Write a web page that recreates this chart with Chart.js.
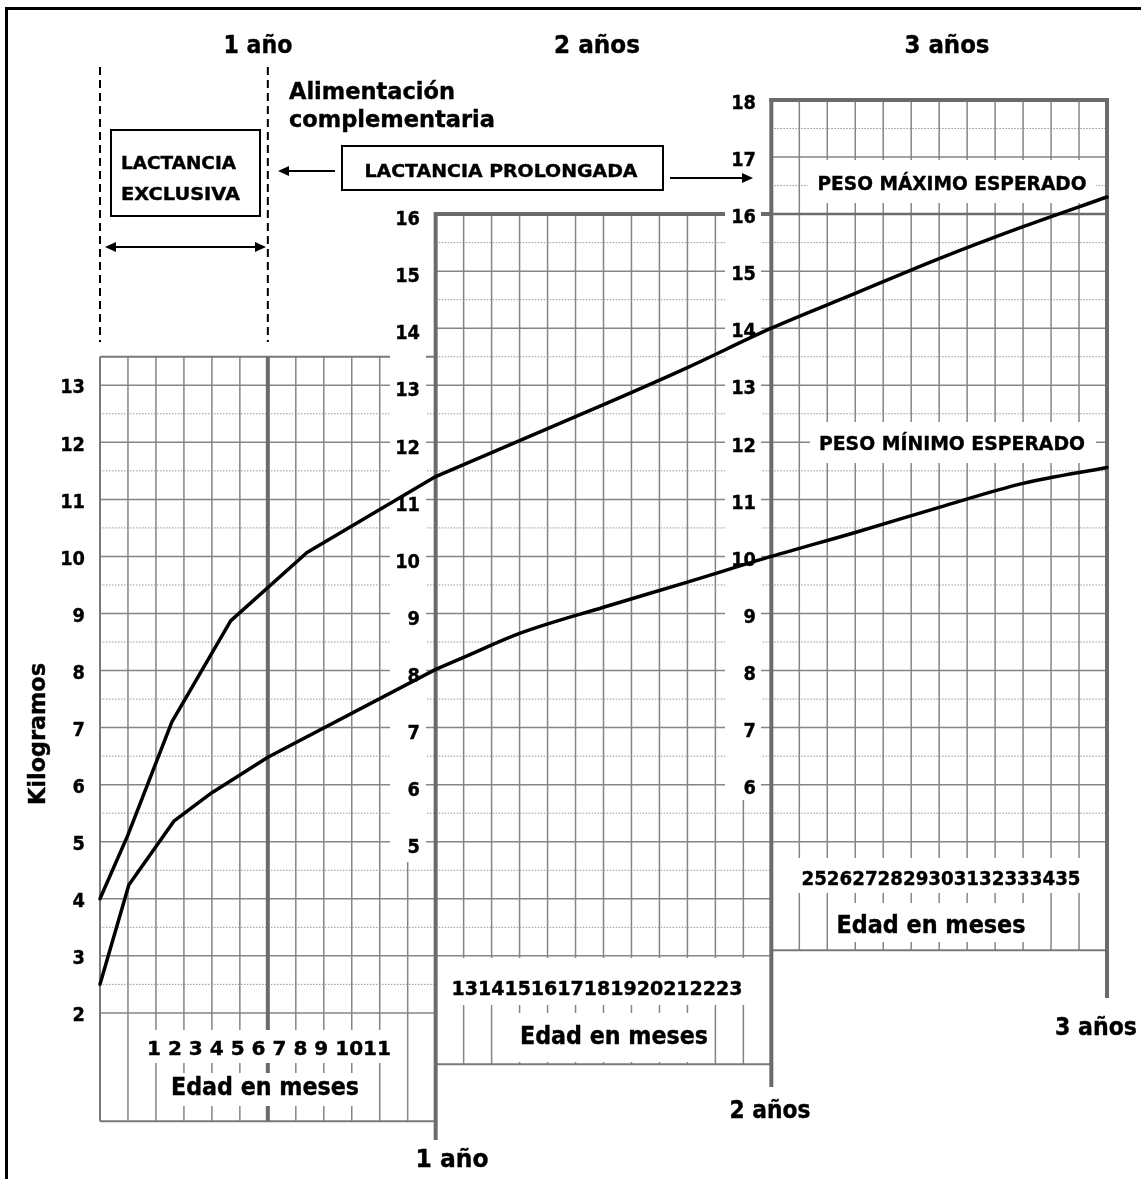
<!DOCTYPE html>
<html>
<head>
<meta charset="utf-8">
<script src="https://cdn.jsdelivr.net/npm/chart.js@4"></script>
<style>
  html, body { margin: 0; padding: 0; background: #fff; }
  canvas { display: block; }
</style>
</head>
<body>
<canvas id="growthChart" width="1141" height="1179"></canvas>
<script>
// curve values (age in months, weight in kg)
const ageMax = [0, 1, 2.57, 4.67, 7.4, 12, 15, 18, 21, 24, 27, 30, 33, 36]
const kgMax = [4.0, 5.12, 7.1, 8.87, 10.07, 11.4, 12.03, 12.66, 13.31, 14.0, 14.61, 15.22, 15.78, 16.3]
const ageMin = [0, 1.03, 2.64, 4, 6, 12, 13, 15, 18, 21, 24, 27, 30, 33, 36]
const kgMin = [2.5, 4.24, 5.36, 5.86, 6.48, 8.02, 8.23, 8.65, 9.11, 9.55, 10.0, 10.42, 10.86, 11.28, 11.56]

// the three stepped panels
const panelStart = [0, 12, 24]
const panelTop = [13.5, 16, 18]
const panelFloor = [2, 3, 5]
const kgTicks = [
  [2, 3, 4, 5, 6, 7, 8, 9, 10, 11, 12, 13],
  [5, 6, 7, 8, 9, 10, 11, 12, 13, 14, 15, 16],
  [6, 7, 8, 9, 10, 11, 12, 13, 14, 15, 16, 17, 18]
]
const monthTicks = [
  ['1', '2', '3', '4', '5', '6', '7', '8', '9', '10', '11'],
  ['13', '14', '15', '16', '17', '18', '19', '20', '21', '22', '23'],
  ['25', '26', '27', '28', '29', '30', '31', '32', '33', '34', '35']
]
const yearLabels = ['1 año', '2 años', '3 años']

// pixel layout of the text boxes of each panel
const panelText = [
  { kgRight: 85, kgDy: 3, tickBox: [140, 1030, 395, 1063], tick: [269, 1050, 244],
    edadBox: [168, 1073, 360, 1106], edad: [265, 1089, 188], column: null },
  { kgRight: 420, kgDy: 6, tickBox: [450, 958, 746, 1005], tick: [597, 990, 291],
    edadBox: [515, 1013, 712, 1062], edad: [614, 1038, 188], column: [390, 190, 426, 862] },
  { kgRight: 756, kgDy: 4, tickBox: [798, 858, 1084, 893], tick: [941, 880, 279],
    edadBox: [834, 903, 1029, 942], edad: [931, 927, 189], column: [725, 88, 761, 800] }
]

const FONT = '"DejaVu Sans", Verdana, sans-serif'

function hLine(ctx, x1, x2, y) {
  ctx.beginPath()
  ctx.moveTo(x1, y)
  ctx.lineTo(x2, y)
  ctx.stroke()
}

function vLine(ctx, x, y1, y2) {
  ctx.beginPath()
  ctx.moveTo(x, y1)
  ctx.lineTo(x, y2)
  ctx.stroke()
}

function whiteBox(ctx, b) {
  ctx.fillStyle = '#fff'
  ctx.fillRect(b[0], b[1], b[2] - b[0], b[3] - b[1])
}

// bold text, squeezed or stretched to the width it has in the picture
function fitText(ctx, text, x, y, width, size, align) {
  ctx.save()
  ctx.font = `bold ${size}px ${FONT}`
  ctx.fillStyle = '#000'
  ctx.strokeStyle = '#000'
  ctx.lineWidth = 0.4
  ctx.textBaseline = 'middle'
  ctx.textAlign = align || 'center'
  const w = ctx.measureText(text).width
  ctx.translate(x, y)
  if (width) ctx.scale(width / w, 1)
  ctx.fillText(text, 0, 0)
  ctx.strokeText(text, 0, 0)
  ctx.restore()
}

function arrowHead(ctx, x, y, dir) {
  ctx.beginPath()
  ctx.moveTo(x, y)
  ctx.lineTo(x - dir * 11, y - 5)
  ctx.lineTo(x - dir * 11, y + 5)
  ctx.closePath()
  ctx.fill()
}

function joinTicks(labels) {
  return labels.map((l, i) => (i > 0 && (l.length === 1 || labels[i - 1].length === 1) ? ' ' : '') + l).join('')
}

function drawGrid(ctx, xs, ys, i) {
  const start = panelStart[i], top = panelTop[i], floor = panelFloor[i]
  const left = xs.getPixelForValue(start)
  const right = xs.getPixelForValue(start + 12)
  const yTop = ys.getPixelForValue(top)
  const yBottom = ys.getPixelForValue(floor - 1.9)

  ctx.save()
  ctx.strokeStyle = '#959595'
  ctx.lineWidth = 1
  ctx.setLineDash([1.5, 1.5])
  for (let kg = floor + 0.5; kg < top; kg++) hLine(ctx, left, right, ys.getPixelForValue(kg))
  ctx.restore()

  ctx.strokeStyle = '#858585'
  ctx.lineWidth = 1.5
  for (let kg = floor; kg < top; kg++) hLine(ctx, left, right, ys.getPixelForValue(kg))
  for (let m = 1; m < 12; m++) vLine(ctx, xs.getPixelForValue(start + m), yTop, yBottom)

  // panel bottom edge
  ctx.strokeStyle = '#7a7a7a'
  ctx.lineWidth = 2
  hLine(ctx, left, right, yBottom)
}

const chartBackdrop = {
  id: 'chartBackdrop',
  beforeDatasetsDraw(chart) {
    const ctx = chart.ctx
    const xs = chart.scales.x
    const ys = chart.scales.y
    const px = v => xs.getPixelForValue(v)
    const py = v => ys.getPixelForValue(v)

    ctx.save()
    ctx.lineCap = 'butt'
    for (let i = 0; i < 3; i++) drawGrid(ctx, xs, ys, i)

    // first panel: thin frame and the 6 month divider
    ctx.strokeStyle = '#7a7a7a'
    ctx.lineWidth = 2
    hLine(ctx, px(0), px(12), py(panelTop[0]))
    vLine(ctx, px(0), py(panelTop[0]), py(panelFloor[0] - 1.9))
    ctx.strokeStyle = '#6b6b6b'
    ctx.lineWidth = 4
    vLine(ctx, px(6), py(panelTop[0]), py(panelFloor[0] - 1.9))

    // thick borders of second and third panel
    hLine(ctx, px(12), px(24), py(panelTop[1]))
    hLine(ctx, px(24) - 2, px(36) + 2, py(panelTop[2]))
    vLine(ctx, px(12), py(panelTop[1]) - 2, 1140)
    vLine(ctx, px(24), py(panelTop[2]) - 2, 1087)
    vLine(ctx, px(36), py(panelTop[2]) - 2, 998)
    ctx.lineWidth = 2.5
    hLine(ctx, px(24), px(36), py(16))

    // white boxes behind the texts
    panelText.forEach(t => {
      whiteBox(ctx, t.tickBox)
      whiteBox(ctx, t.edadBox)
      if (t.column) whiteBox(ctx, t.column)
    })
    whiteBox(ctx, [808, 160, 1096, 203])
    whiteBox(ctx, [810, 422, 1096, 463])

    // axis texts
    panelText.forEach((t, i) => {
      kgTicks[i].forEach(kg => {
        const s = String(kg)
        fitText(ctx, s, t.kgRight, py(kg) + t.kgDy, s.length * 12.4, 20, 'right')
      })
      fitText(ctx, joinTicks(monthTicks[i]), t.tick[0], t.tick[1], t.tick[2], 19)
      fitText(ctx, 'Edad en meses', t.edad[0], t.edad[1], t.edad[2], 24)
    })

    fitText(ctx, 'PESO MÁXIMO ESPERADO', 952, 185, 269, 19)
    fitText(ctx, 'PESO MÍNIMO ESPERADO', 952, 445, 266, 19)

    // year headings, top and bottom
    fitText(ctx, yearLabels[0], 258, 47, 69, 24)
    fitText(ctx, yearLabels[1], 597, 47, 86, 24)
    fitText(ctx, yearLabels[2], 947, 47, 85, 24)
    fitText(ctx, yearLabels[0], 452, 1161, 73, 24)
    fitText(ctx, yearLabels[1], 770, 1112, 81, 24)
    fitText(ctx, yearLabels[2], 1096, 1029, 82, 24)

    // y axis title
    ctx.save()
    ctx.translate(39, 734)
    ctx.rotate(-Math.PI / 2)
    fitText(ctx, 'Kilogramos', 0, 0, 142, 23)
    ctx.restore()

    // feeding periods above the first panel
    ctx.strokeStyle = '#000'
    ctx.fillStyle = '#000'
    ctx.lineWidth = 2
    ctx.setLineDash([8, 5])
    vLine(ctx, px(0), 67, 342)
    vLine(ctx, px(6), 67, 342)
    ctx.setLineDash([])

    ctx.strokeRect(111, 130, 149, 86)
    fitText(ctx, 'LACTANCIA', 121, 164, 115, 18, 'left')
    fitText(ctx, 'EXCLUSIVA', 121, 195, 119, 18, 'left')

    ctx.lineWidth = 2
    hLine(ctx, 108, 263, 247)
    arrowHead(ctx, 105, 247, -1)
    arrowHead(ctx, 266, 247, 1)

    fitText(ctx, 'Alimentación', 289, 93, 166, 23, 'left')
    fitText(ctx, 'complementaria', 289, 121, 206, 23, 'left')

    ctx.lineWidth = 2
    hLine(ctx, 285, 335, 171)
    arrowHead(ctx, 278, 171, -1)

    ctx.strokeRect(342, 146, 321, 44)
    fitText(ctx, 'LACTANCIA PROLONGADA', 501, 172, 273, 18)

    ctx.lineWidth = 2
    hLine(ctx, 670, 745, 178)
    arrowHead(ctx, 753, 178, 1)

    // outer frame
    ctx.lineWidth = 3
    ctx.beginPath()
    ctx.moveTo(6.5, 1179)
    ctx.lineTo(6.5, 8.5)
    ctx.lineTo(1141, 8.5)
    ctx.stroke()
    ctx.restore()
  }
}

// first year is drawn with sharp corners, the rest as a smooth curve
function curvePart(ages, kgs, early) {
  return ages
    .map((a, i) => ({ x: a, y: kgs[i] }))
    .filter(p => (early ? p.x <= 12 : p.x >= 12))
}

function curveDataset(label, ages, kgs, early) {
  return {
    label: label,
    data: curvePart(ages, kgs, early),
    borderColor: '#000',
    borderWidth: 3.5,
    pointRadius: 0,
    tension: early ? 0 : 0.4,
    cubicInterpolationMode: early ? 'default' : 'monotone',
    borderCapStyle: 'round',
    borderJoinStyle: 'round',
    clip: false
  }
}

const ctx = document.getElementById('growthChart').getContext('2d')

new Chart(ctx, {
  type: 'line',
  data: {
    datasets: [
      curveDataset('Peso máximo esperado', ageMax, kgMax, true),
      curveDataset('Peso máximo esperado', ageMax, kgMax, false),
      curveDataset('Peso mínimo esperado', ageMin, kgMin, true),
      curveDataset('Peso mínimo esperado', ageMin, kgMin, false)
    ]
  },
  options: {
    responsive: false,
    animation: false,
    layout: { padding: { left: 100, right: 34, top: 100, bottom: 52 } },
    plugins: {
      legend: { display: false },
      tooltip: { enabled: false }
    },
    scales: {
      x: { type: 'linear', min: 0, max: 36, display: false },
      y: { type: 'linear', min: 0, max: 18, display: false }
    }
  },
  plugins: [chartBackdrop]
})
</script>
</body>
</html>
